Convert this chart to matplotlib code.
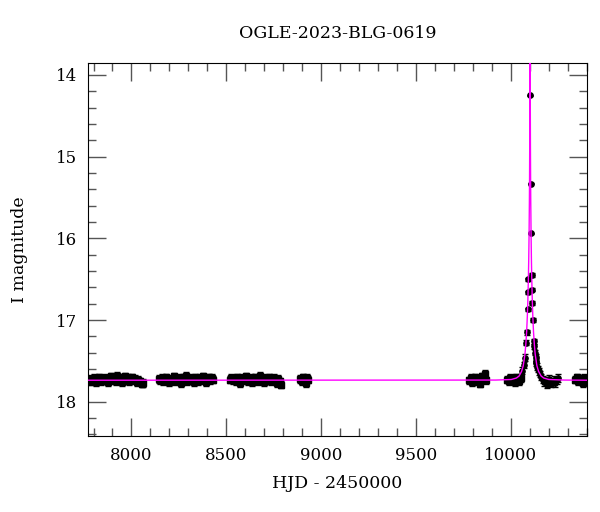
import matplotlib.pyplot as plt
from matplotlib.ticker import MultipleLocator

plt.rcParams.update({"font.family": "DejaVu Serif", "font.size": 11})

# --- baseline seasons (HJD - 2450000, I mag) ---
t_s1 = [7773, 7781, 7789, 7797, 7805, 7813, 7821, 7829, 7837, 7845, 7853, 7861, 7869,
        7877, 7885, 7893, 7901, 7909, 7917, 7925, 7933, 7941, 7949, 7957, 7965, 7973,
        7981, 7989, 7997, 8005, 8013, 8021, 8029, 8037, 8045, 8053, 8061]
m_s1 = [17.73, 17.75, 17.72, 17.74, 17.71, 17.76, 17.73, 17.70, 17.75, 17.72, 17.74, 17.71, 17.73,
        17.76, 17.72, 17.69, 17.74, 17.71, 17.75, 17.68, 17.73, 17.70, 17.76, 17.72, 17.69, 17.74,
        17.71, 17.75, 17.73, 17.70, 17.74, 17.72, 17.76, 17.73, 17.75, 17.78, 17.77]

t_s2 = [8143, 8151, 8159, 8167, 8175, 8183, 8191, 8199, 8207, 8215, 8223, 8231, 8239,
        8247, 8255, 8263, 8271, 8279, 8287, 8295, 8303, 8311, 8319, 8327, 8335, 8343,
        8351, 8359, 8367, 8375, 8383, 8391, 8399, 8407, 8415, 8423, 8431]
m_s2 = [17.72, 17.74, 17.71, 17.75, 17.73, 17.70, 17.74, 17.76, 17.72, 17.73, 17.69, 17.75, 17.71,
        17.74, 17.72, 17.77, 17.70, 17.73, 17.68, 17.75, 17.71, 17.74, 17.72, 17.76, 17.70, 17.73,
        17.75, 17.71, 17.74, 17.69, 17.73, 17.76, 17.72, 17.70, 17.74, 17.71, 17.73]

t_s3 = [8517, 8525, 8533, 8541, 8549, 8557, 8565, 8573, 8581, 8589, 8597, 8605, 8613,
        8621, 8629, 8637, 8645, 8653, 8661, 8669, 8677, 8685, 8693, 8701, 8709, 8717,
        8725, 8733, 8741, 8749, 8757, 8765, 8773, 8781, 8789]
m_s3 = [17.73, 17.71, 17.74, 17.72, 17.75, 17.70, 17.73, 17.77, 17.71, 17.74, 17.72, 17.69, 17.75,
        17.73, 17.71, 17.76, 17.74, 17.70, 17.72, 17.75, 17.68, 17.73, 17.71, 17.76, 17.74, 17.72,
        17.70, 17.75, 17.73, 17.71, 17.74, 17.77, 17.72, 17.75, 17.79]

t_s4 = [8890, 8897, 8904, 8911, 8918, 8925, 8932]
m_s4 = [17.72, 17.75, 17.70, 17.74, 17.77, 17.71, 17.73]

t_s5 = [9781, 9789, 9797, 9805, 9813, 9821, 9829, 9837, 9845, 9853, 9861, 9869]
m_s5 = [17.74, 17.71, 17.76, 17.73, 17.70, 17.75, 17.72, 17.78, 17.69, 17.73, 17.66, 17.74]

t_s6 = [9981, 9989, 9997, 10005, 10013, 10021, 10029, 10037, 10045, 10053]
m_s6 = [17.73, 17.75, 17.71, 17.74, 17.72, 17.76, 17.70, 17.73, 17.75, 17.71]

# event + tail
t_ev = [10057, 10068, 10072, 10080, 10083, 10088, 10090, 10092, 10102, 10104, 10106,
        10110, 10112, 10113, 10116, 10122, 10124, 10127, 10130, 10132, 10134, 10138,
        10141, 10146, 10153, 10160, 10168, 10175, 10182, 10189, 10196, 10203, 10210,
        10217, 10225, 10233, 10241, 10249]
m_ev = [17.62, 17.55, 17.46, 17.28, 17.15, 16.87, 16.66, 16.50, 14.25, 15.33, 15.94,
        16.45, 16.63, 16.79, 17.00, 17.26, 17.32, 17.40, 17.45, 17.50, 17.53, 17.57,
        17.60, 17.63, 17.66, 17.70, 17.73, 17.76, 17.74, 17.79, 17.75, 17.72, 17.78,
        17.75, 17.73, 17.77, 17.74, 17.71]
e_ev = [0.04, 0.04, 0.04, 0.03, 0.03, 0.02, 0.02, 0.02, 0.01, 0.01, 0.01,
        0.02, 0.02, 0.02, 0.02, 0.03, 0.03, 0.03, 0.03, 0.03, 0.03, 0.04,
        0.04, 0.04, 0.04, 0.04, 0.045, 0.045, 0.045, 0.045, 0.045, 0.045, 0.045,
        0.045, 0.045, 0.045, 0.045, 0.045]

t_s7 = [10338, 10346, 10354, 10362, 10370, 10378, 10386]
m_s7 = [17.73, 17.70, 17.75, 17.72, 17.74, 17.77, 17.71]

err_base = 0.045

# model curve
t_mod = [7770, 9920, 10002, 10029, 10043, 10056, 10065, 10074, 10078.5, 10083, 10086.6,
         10089.3, 10092, 10093.8, 10095.6, 10097.4, 10098.3, 10099.2, 10100.1, 10100.46,
         10101, 10101.54, 10101.9, 10102.8, 10103.7, 10104.6, 10106.4, 10108.2, 10110,
         10112.7, 10115.4, 10119, 10123.5, 10128, 10137, 10146, 10159.5, 10173, 10200,
         10281, 10400]
m_mod = [17.737, 17.735, 17.728, 17.71, 17.686, 17.63, 17.56, 17.42, 17.30, 17.14, 16.95,
         16.76, 16.50, 16.28, 15.98, 15.55, 15.25, 14.84, 14.21, 13.87,
         13.49, 13.87, 14.21, 14.84, 15.25, 15.55, 15.98, 16.28, 16.50,
         16.76, 16.95, 17.14, 17.30, 17.42, 17.56, 17.63, 17.686, 17.71, 17.728,
         17.735, 17.737]

fig = plt.figure(figsize=(6, 5.12), dpi=100)
ax = fig.add_axes([0.1467, 0.1484, 0.8313, 0.7291])

seasons = [(t_s1, m_s1), (t_s2, m_s2), (t_s3, m_s3), (t_s4, m_s4),
           (t_s5, m_s5), (t_s6, m_s6), (t_s7, m_s7)]
for t, m in seasons:
    ax.errorbar(t, m, yerr=err_base, fmt='s', ms=4.2, color='k', ecolor='k',
                elinewidth=1.0, capsize=2, capthick=1.0, zorder=2)
ax.errorbar(t_ev, m_ev, yerr=e_ev, fmt='o', ms=3.8, color='k', ecolor='k',
            elinewidth=1.0, capsize=2, capthick=1.0, zorder=2)

ax.plot(t_mod, m_mod, color='#ff00ff', lw=1.0, zorder=3)

ax.set_xlim(7771, 10400)
ax.set_ylim(18.42, 13.85)

ax.xaxis.set_major_locator(MultipleLocator(500))
ax.xaxis.set_minor_locator(MultipleLocator(100))
ax.yaxis.set_major_locator(MultipleLocator(1))
ax.yaxis.set_minor_locator(MultipleLocator(0.2))
ax.tick_params(which='both', direction='in', top=True, right=True, color='#555555')
ax.tick_params(which='major', length=13, width=1, labelsize=12, pad=8)
ax.tick_params(which='minor', length=5.5, width=1)

ax.set_xlabel('HJD - 2450000', fontsize=12.5, labelpad=8)
ax.set_ylabel('I magnitude', fontsize=12.5, labelpad=20)
ax.set_title('OGLE-2023-BLG-0619', fontsize=12.5, pad=18)

plt.savefig('out.png', dpi=100)
